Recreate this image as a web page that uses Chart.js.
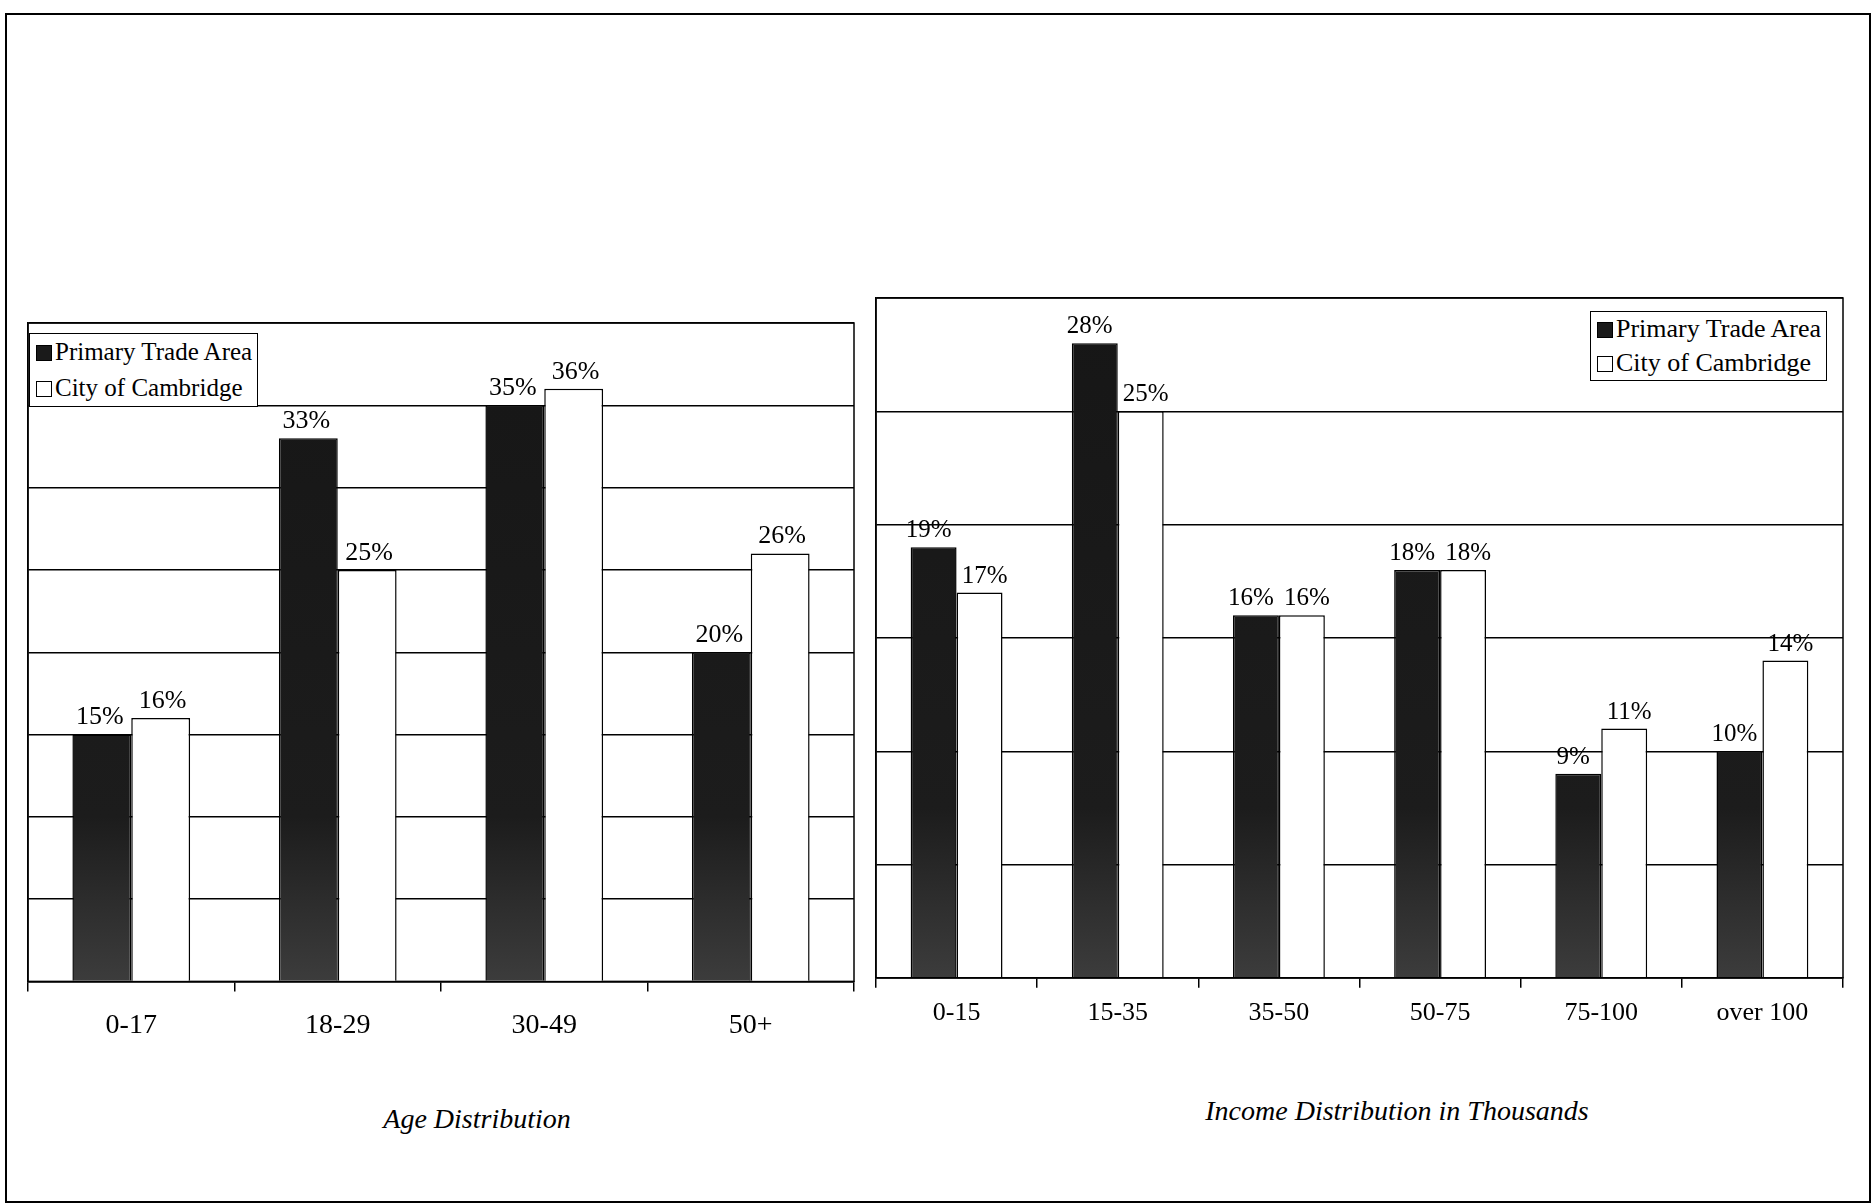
<!DOCTYPE html>
<html>
<head>
<meta charset="utf-8">
<script src="https://cdn.jsdelivr.net/npm/chart.js@4.4.1/dist/chart.umd.min.js"></script>
<style>
    body { margin: 0; width: 1876px; height: 1203px; background: #fff; position: relative; overflow: hidden; font-family: "Liberation Serif", "Times New Roman", serif; }
    .moldura { position: absolute; left: 5px; top: 13px; width: 1862px; height: 1186px; border: 2px solid #000; }
    canvas { position: absolute; }
    .legenda { position: absolute; border: 1.5px solid #000; background: #fff; font-size: 25px; line-height: 36px; padding: 0 5px 0 6px; }
    .legenda div { white-space: nowrap; }
    .legenda span { display: inline-block; width: 14px; height: 14px; border: 1.5px solid #000; margin-right: 3px; vertical-align: -1px; }
    .titulo { position: absolute; font-style: italic; font-size: 28px; transform: translate(-50%, -50%); white-space: nowrap; }
</style>
</head>
<body>
<div class="moldura"></div>
<canvas id="graficoIdade" width="880" height="791" style="left:0px; top:290px;"></canvas>
<canvas id="graficoRenda" width="1000" height="781" style="left:860px; top:270px;"></canvas>

<div class="legenda" style="left:29px; top:333px;">
    <div><span style="background:#1a1a1a"></span>Primary Trade Area</div>
    <div><span style="background:#fff"></span>City of Cambridge</div>
</div>
<div class="legenda" style="left:1590px; top:311px; font-size:26px; line-height:34px;">
    <div><span style="background:#1a1a1a"></span>Primary Trade Area</div>
    <div><span style="background:#fff"></span>City of Cambridge</div>
</div>

<div class="titulo" style="left:477px; top:1119px;">Age Distribution</div>
<div class="titulo" style="left:1397px; top:1111px;">Income Distribution in Thousands</div>

<script>
const seriesNames = ['Primary Trade Area', 'City of Cambridge']

const ageLabels = ['0-17', '18-29', '30-49', '50+']
const agePrimary = [15, 33, 35, 20]
const ageCambridge = [16, 25, 36, 26]
const ageMax = 40

const incomeLabels = ['0-15', '15-35', '35-50', '50-75', '75-100', 'over 100']
const incomePrimary = [19, 28, 16, 18, 9, 10]
const incomeCambridge = [17, 25, 16, 18, 11, 14]
const incomeMax = 30

const gridStep = 5

Chart.defaults.font.family = '"Liberation Serif", "Times New Roman", serif'
Chart.defaults.color = '#000'

// rotulos de porcentagem em cima das barras
function rotulosPlugin(tamanho, afastamento) {
    return {
        id: 'rotulos',
        afterDatasetsDraw(chart) {
            const ctx = chart.ctx
            ctx.save()
            ctx.font = tamanho + 'px "Liberation Serif"'
            ctx.fillStyle = '#000'
            ctx.textAlign = 'center'
            ctx.textBaseline = 'bottom'
            chart.data.datasets.forEach((ds, i) => {
                const dx = i === 0 ? -afastamento : afastamento
                chart.getDatasetMeta(i).data.forEach((bar, j) => {
                    ctx.fillText(ds.data[j] + '%', bar.x + dx, bar.y - 4)
                })
            })
            ctx.restore()
        }
    }
}

const molduraPlugin = {
    id: 'molduraArea',
    beforeDatasetsDraw(chart) {
        const { ctx, chartArea } = chart
        ctx.save()
        ctx.strokeStyle = '#000'
        ctx.lineWidth = 1.5
        ctx.strokeRect(chartArea.left, chartArea.top, chartArea.right - chartArea.left, chartArea.bottom - chartArea.top)
        ctx.restore()
    }
}

function fundoEscuro(context) {
    const area = context.chart.chartArea
    if (!area) return '#1a1a1a'
    const g = context.chart.ctx.createLinearGradient(0, area.top, 0, area.bottom)
    g.addColorStop(0, '#161616')
    g.addColorStop(0.75, '#1c1c1c')
    g.addColorStop(1, '#3c3c3c')
    return g
}

function criarGrafico(id, labels, primary, cambridge, max, padding, tickPadding, tickSize, rotulos) {
    const ctx = document.getElementById(id).getContext('2d')
    return new Chart(ctx, {
        type: 'bar',
        data: {
            labels: labels,
            datasets: [{
                label: seriesNames[0],
                data: primary,
                backgroundColor: fundoEscuro,
                borderColor: '#000',
                borderWidth: 1.5,
                categoryPercentage: 0.57,
                barPercentage: 1
            }, {
                label: seriesNames[1],
                data: cambridge,
                backgroundColor: '#fff',
                borderColor: '#000',
                borderWidth: 1.5,
                categoryPercentage: 0.57,
                barPercentage: 1
            }]
        },
        options: {
            responsive: false,
            animation: false,
            layout: { padding: padding },
            plugins: {
                legend: { display: false },
                tooltip: { enabled: false }
            },
            scales: {
                x: {
                    grid: { drawOnChartArea: false, drawTicks: true, tickLength: 10, color: '#000', lineWidth: 1.5 },
                    border: { display: true, color: '#000', width: 1.5 },
                    ticks: { font: { size: tickSize }, padding: tickPadding, color: '#000' }
                },
                y: {
                    min: 0,
                    max: max,
                    ticks: { display: false, stepSize: gridStep },
                    grid: { color: '#000', lineWidth: 1.4, drawTicks: false },
                    border: { display: true, color: '#000', width: 1.5 }
                }
            }
        },
        plugins: [molduraPlugin, rotulos]
    })
}

criarGrafico('graficoIdade', ageLabels, agePrimary, ageCambridge, ageMax,
    { left: 28, top: 33, right: 26, bottom: 22 }, 17, 28, rotulosPlugin(26, 2))
criarGrafico('graficoRenda', incomeLabels, incomePrimary, incomeCambridge, incomeMax,
    { left: 16, top: 28, right: 17, bottom: 12 }, 10, 26, rotulosPlugin(25, 5))
</script>
</body>
</html>
